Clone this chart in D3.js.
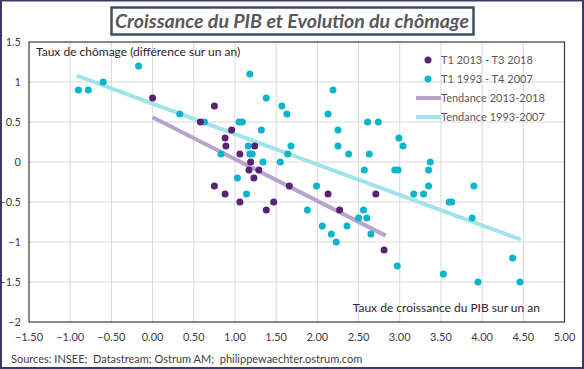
<!DOCTYPE html>
<html lang="fr">
<head>
  <meta charset="UTF-8">
  <title>Croissance du PIB et Evolution du chômage</title>
  <style>
    body { margin: 0; background: #fff; }
    svg { display: block; font-family: Lato, "DejaVu Sans", sans-serif; }
    .grid line { stroke: #d9d9d9; stroke-width: 1; }
    .tick-label { font-size: 11px; fill: #404040; }
    .legend text { font-size: 11px; fill: #595959; }
  </style>
  <script src="https://d3js.org/d3.v7.min.js"></script>
</head>
<body>
  <svg id="chart"></svg>
  <script>
    const width = 584;
    const height = 369;

    // T1 2013 - T3 2018 : [croissance PIB, variation chômage]
    const recent = [
      [0.00, 0.8], [0.58, 0.5], [0.75, 0.7], [0.96, 0.4], [0.88, 0.3],
      [0.89, 0.2], [1.24, 0.2], [1.06, 0.1], [1.19, 0.0], [1.17, -0.1],
      [1.29, -0.1], [1.23, -0.2], [0.75, -0.3], [1.66, -0.3], [0.88, -0.4],
      [1.06, -0.5], [1.47, -0.5], [1.38, -0.6], [2.13, -0.4], [2.71, -0.4],
      [2.27, -0.6], [2.81, -1.1]
    ];

    // T1 1993 - T4 2007
    const older = [
      [-0.90, 0.9], [-0.78, 0.9], [-0.60, 1.0], [-0.17, 1.2], [0.33, 0.6],
      [0.63, 0.5], [1.18, 1.1], [1.38, 0.8], [1.57, 0.7], [1.63, 0.6],
      [1.05, 0.5], [1.09, 0.5], [1.32, 0.4], [1.16, 0.2], [1.68, 0.2],
      [1.64, 0.1], [0.83, 0.1], [1.18, 0.1], [1.21, 0.1], [1.34, 0.0],
      [1.55, 0.0], [1.03, -0.2], [1.14, -0.4], [2.19, 0.9], [2.13, 0.6],
      [2.25, 0.4], [2.61, 0.5], [2.74, 0.5], [2.25, 0.2], [2.38, 0.1],
      [2.63, 0.1], [2.99, 0.3], [3.04, 0.2], [2.57, -0.1], [2.94, -0.1],
      [2.98, -0.1], [3.35, -0.1], [3.37, 0.0], [3.35, -0.3], [3.17, -0.4],
      [3.29, -0.4], [3.60, -0.5], [3.63, -0.5], [1.99, -0.3], [1.88, -0.6],
      [2.56, -0.6], [2.50, -0.7], [2.60, -0.7], [2.06, -0.8], [2.36, -0.8],
      [2.17, -0.9], [2.65, -0.9], [2.23, -1.0], [2.97, -1.3], [3.90, -0.3],
      [3.88, -0.7], [4.37, -1.2], [3.53, -1.4], [3.95, -1.5], [4.46, -1.5]
    ];

    // linear trend end points
    const trendRecent = [[0.00, 0.56], [2.83, -0.92]];
    const trendOlder = [[-0.92, 1.08], [4.47, -0.97]];

    const xTicks = [-1.5, -1, -0.5, 0, 0.5, 1, 1.5, 2, 2.5, 3, 3.5, 4, 4.5, 5];
    const yTicks = [1.5, 1, 0.5, 0, -0.5, -1, -1.5, -2];

    const legendItems = [
      {label: "T1 2013 - T3 2018", type: "dot", color: "#5a2175"},
      {label: "T1 1993 - T4 2007", type: "dot", color: "#0cb4cc"},
      {label: "Tendance 2013-2018", type: "line", color: "#b8a3cd"},
      {label: "Tendance 1993-2007", type: "line", color: "#9fe3ec"}
    ];

    const plot = {left: 29, right: 564.5, top: 42, bottom: 322};

    const x = d3.scaleLinear().domain([-1.5, 5]).range([plot.left, plot.right]);
    const y = d3.scaleLinear().domain([-2, 1.5]).range([plot.bottom, plot.top]);

    const svg = d3.select("#chart")
      .attr("width", width)
      .attr("height", height);

    // outer frame
    svg.append("rect")
      .attr("x", 1).attr("y", 0.5)
      .attr("width", width - 2).attr("height", height - 1.5)
      .attr("fill", "#fff")
      .attr("stroke", "#3d3a6b")
      .attr("stroke-width", 2);

    // title box
    svg.append("rect")
      .attr("x", 111.5).attr("y", 7.5)
      .attr("width", 362).attr("height", 27)
      .attr("fill", "#fff")
      .attr("stroke", "#3f4f60")
      .attr("stroke-width", 2.5);

    svg.append("text")
      .attr("x", 292).attr("y", 28)
      .attr("text-anchor", "middle")
      .attr("font-size", 19)
      .attr("font-weight", "bold")
      .attr("font-style", "italic")
      .attr("fill", "#595959")
      .attr("textLength", 354)
      .attr("lengthAdjust", "spacingAndGlyphs")
      .text("Croissance du PIB  et Evolution du chômage");

    // grid
    const grid = svg.append("g").attr("class", "grid");
    grid.selectAll("line.v")
      .data(xTicks.slice(1, -1))
      .join("line")
      .attr("x1", d => x(d)).attr("x2", d => x(d))
      .attr("y1", plot.top).attr("y2", plot.bottom);
    grid.selectAll("line.h")
      .data(yTicks.slice(1, -1))
      .join("line")
      .attr("x1", plot.left).attr("x2", plot.right)
      .attr("y1", d => y(d)).attr("y2", d => y(d));

    // plot frame
    svg.append("rect")
      .attr("x", plot.left).attr("y", plot.top)
      .attr("width", plot.right - plot.left).attr("height", plot.bottom - plot.top)
      .attr("fill", "none")
      .attr("stroke", "#3a3a3a")
      .attr("stroke-width", 1.2);

    // tick labels
    svg.append("g").selectAll("text")
      .data(yTicks)
      .join("text")
      .attr("class", "tick-label")
      .attr("x", 21)
      .attr("y", d => y(d))
      .attr("dy", "0.35em")
      .attr("text-anchor", "end")
      .text(d => d3.format("")(d));

    svg.append("g").selectAll("text")
      .data(xTicks)
      .join("text")
      .attr("class", "tick-label")
      .attr("x", d => x(d))
      .attr("y", 337)
      .attr("dy", "0.35em")
      .attr("text-anchor", "middle")
      .text(d => d3.format(".2f")(d));

    // axis titles
    svg.append("text")
      .attr("x", 36).attr("y", 52)
      .attr("dy", "0.35em")
      .attr("font-size", 12)
      .attr("fill", "#262626")
      .text("Taux de chômage (différence sur un an)");

    svg.append("text")
      .attr("x", 540).attr("y", 308)
      .attr("dy", "0.35em")
      .attr("text-anchor", "end")
      .attr("font-size", 12)
      .attr("fill", "#262626")
      .text("Taux de croissance du PIB sur un an");

    // trends
    const line = d3.line().x(d => x(d[0])).y(d => y(d[1]));
    svg.append("path")
      .datum(trendOlder)
      .attr("d", line)
      .attr("fill", "none")
      .attr("stroke", legendItems[3].color)
      .attr("stroke-width", 4);
    svg.append("path")
      .datum(trendRecent)
      .attr("d", line)
      .attr("fill", "none")
      .attr("stroke", legendItems[2].color)
      .attr("stroke-width", 4);

    // points
    svg.append("g").selectAll("circle")
      .data(older)
      .join("circle")
      .attr("cx", d => x(d[0]))
      .attr("cy", d => y(d[1]))
      .attr("r", 3.5)
      .attr("fill", legendItems[1].color);

    svg.append("g").selectAll("circle")
      .data(recent)
      .join("circle")
      .attr("cx", d => x(d[0]))
      .attr("cy", d => y(d[1]))
      .attr("r", 3.5)
      .attr("fill", legendItems[0].color);

    // legend
    const legend = svg.append("g").attr("class", "legend");
    const rows = legend.selectAll("g")
      .data(legendItems)
      .join("g")
      .attr("transform", (d, i) => `translate(0, ${60 + i * 19})`);

    rows.filter(d => d.type === "dot")
      .append("circle")
      .attr("cx", 428).attr("cy", 0).attr("r", 3.5)
      .attr("fill", d => d.color);

    rows.filter(d => d.type === "line")
      .append("line")
      .attr("x1", 416).attr("x2", 441)
      .attr("stroke", d => d.color)
      .attr("stroke-width", 4);

    rows.append("text")
      .attr("x", 441)
      .attr("dy", "0.35em")
      .text(d => d.label);

    // source
    svg.append("text")
      .attr("x", 11).attr("y", 359)
      .attr("dy", "0.35em")
      .attr("font-size", 11)
      .attr("fill", "#404040")
      .text("Sources: INSEE;  Datastream; Ostrum AM;  philippewaechter.ostrum.com")
      .attr("xml:space", "preserve");
  </script>
</body>
</html>
